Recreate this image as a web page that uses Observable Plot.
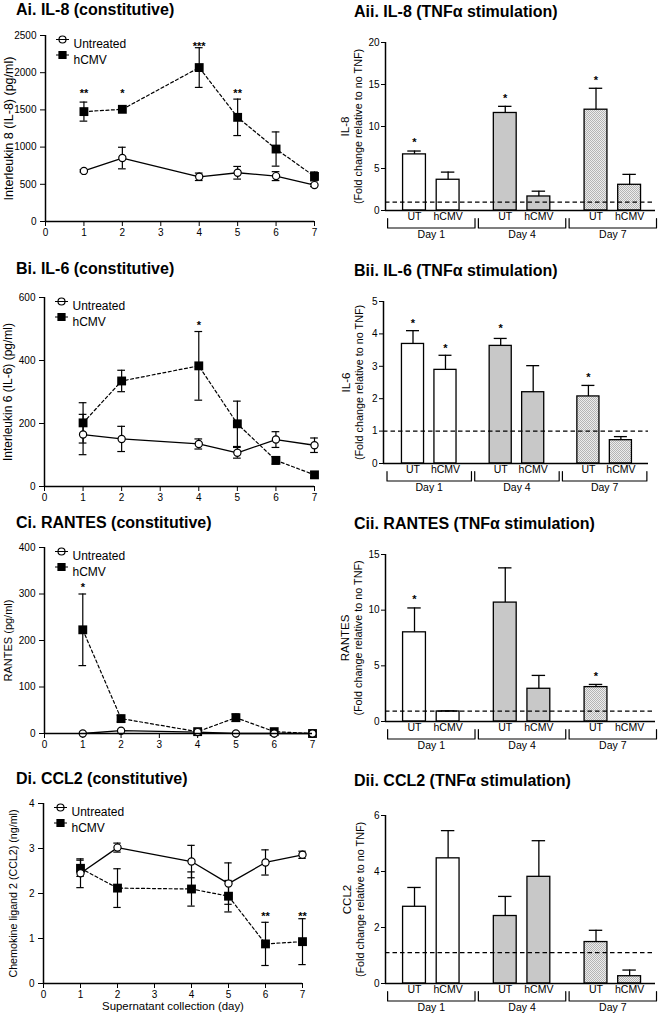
<!DOCTYPE html>
<html><head><meta charset="utf-8">
<script src="https://cdn.jsdelivr.net/npm/d3@7"></script>
<script src="https://cdn.jsdelivr.net/npm/@observablehq/plot@0.6"></script>
<style>
body{margin:0;background:#fff;}
#fig{position:relative;width:660px;height:1016px;overflow:hidden;font-family:'Liberation Sans',Arial,sans-serif;background:#fff;}
.panel{position:absolute;width:330px;height:254px;}
.title{position:absolute;font-weight:bold;font-size:16px;line-height:16px;white-space:nowrap;color:#000;font-family:'Liberation Sans',Arial,sans-serif;}
</style></head><body>
<svg width="0" height="0" style="position:absolute"><defs>
<pattern id="chk" width="2" height="2" patternUnits="userSpaceOnUse">
<rect width="2" height="2" fill="#ececec"/><rect width="1" height="1" fill="#b4b4b4"/><rect x="1" y="1" width="1" height="1" fill="#b4b4b4"/>
</pattern></defs></svg>
<div id="fig"></div>
<script>
// ---------------- DATA ----------------
const days = [1, 2, 4, 5, 6, 7];

// Ai IL-8 constitutive (pg/ml)
const il8Untreated    = [680, 853, 601, 655, 610, 489];
const il8UntreatedErr = [15, 145, 50, 85, 60, 20];
const il8HCMV         = [1477, 1508, 2069, 1400, 974, 606];
const il8HCMVErr      = [128, 20, 267, 245, 230, 60];
const il8StarDays   = [1, 2, 4, 5];
const il8StarLabels = ["**", "*", "***", "**"];
const il8StarLevels = [1760, 1760, 2390, 1760];

// Bi IL-6 constitutive (pg/ml)
const il6Untreated    = [165, 151, 135, 107, 149, 131];
const il6UntreatedErr = [64, 40, 16, 17, 25, 23];
const il6HCMV         = [202, 335, 383, 199, 83, 37];
const il6HCMVErr      = [64, 34, 109, 72, 12, 10];
const il6StarDays   = [4];
const il6StarLabels = ["*"];
const il6StarLevels = [520];

// Ci RANTES constitutive (pg/ml)
const rantesUntreated    = [0, 6, 3, 0, 0, 0];
const rantesUntreatedErr = [0, 0, 0, 0, 0, 0];
const rantesHCMV         = [223, 32, 4, 34, 4, 0];
const rantesHCMVErr      = [77, 7, 0, 8, 0, 0];
const rantesStarDays   = [1];
const rantesStarLabels = ["*"];
const rantesStarLevels = [320];

// Di CCL2 constitutive (ng/ml)
const ccl2Untreated    = [2.45, 3.02, 2.71, 2.22, 2.69, 2.86];
const ccl2UntreatedErr = [0.32, 0.10, 0.36, 0.46, 0.28, 0.08];
const ccl2HCMV         = [2.56, 2.12, 2.10, 1.94, 0.88, 0.93];
const ccl2HCMVErr      = [0.18, 0.43, 0.38, 0.35, 0.48, 0.51];
const ccl2StarDays   = [6, 7];
const ccl2StarLabels = ["**", "**"];
const ccl2StarLevels = [1.56, 1.56];

// TNFα stimulation bar charts (fold change), order: Day1 UT, Day1 hCMV, Day4 UT, Day4 hCMV, Day7 UT, Day7 hCMV
const groups = ["Day 1", "Day 4", "Day 7"];
const treatments = ["UT", "hCMV"];

const il8Fold      = [6.68, 3.66, 11.61, 1.67, 12.0, 3.06];
const il8FoldErr   = [0.40, 0.91, 0.79, 0.63, 2.55, 1.24];
const il8FoldStarBars   = [0, 2, 4];
const il8FoldStarLevels = [8.4, 13.7, 15.8];

const il6Fold      = [3.69, 2.89, 3.63, 2.20, 2.07, 0.72];
const il6FoldErr   = [0.41, 0.45, 0.23, 0.82, 0.34, 0.11];
const il6FoldStarBars   = [0, 1, 2, 4];
const il6FoldStarLevels = [4.42, 3.64, 4.25, 2.75];

const rantesFold    = [8.01, 0.90, 10.68, 2.94, 3.09, null];
const rantesFoldErr = [2.19, 0.05, 3.12, 1.20, 0.24, null];
const rantesFoldStarBars   = [0, 4];
const rantesFoldStarLevels = [11.2, 4.3];

const ccl2Fold    = [2.74, 4.47, 2.41, 3.81, 1.48, 0.26];
const ccl2FoldErr = [0.69, 0.99, 0.70, 1.29, 0.42, 0.22];
const ccl2FoldStarBars   = [];
const ccl2FoldStarLevels = [];

const refLevels = [1, 1, 0.93, 1.1]; // dashed "no TNF" reference line per panel
const foldLabel = "(Fold change relative to no TNF)";

// ---------------- LAYOUT ----------------
const W = 330, H = 254;
const fontFam = "'Liberation Sans', Arial, sans-serif";
const narrowFam = "'Liberation Sans Narrow', 'Arial Narrow', 'Liberation Sans', Arial, sans-serif";
const baseStyle = {fontFamily: fontFam, fontSize: "10px", color: "black", background: "transparent", overflow: "visible"};
const fig = document.getElementById("fig");

function place(node, left, top) {
  const d = document.createElement("div");
  d.className = "panel";
  d.style.left = left + "px"; d.style.top = top + "px";
  d.appendChild(node);
  fig.appendChild(d);
}
function title(text, left, top) {
  const d = document.createElement("div");
  d.className = "title";
  d.style.left = left + "px"; d.style.top = top + "px";
  d.textContent = text;
  fig.appendChild(d);
}
function margins(f, left, top) {
  return {width: W, height: H, marginLeft: f.x0 - left, marginRight: left + W - f.x1,
          marginTop: f.y0 - top, marginBottom: top + H - f.y1};
}

const legendCircle = {draw(ctx) { ctx.moveTo(-6.5, 0); ctx.lineTo(6.5, 0); ctx.moveTo(3.5, 0); ctx.arc(0, 0, 3.5, 0, 2 * Math.PI); }};
const legendSquare = {draw(ctx) { ctx.moveTo(-6.5, 0); ctx.lineTo(6.5, 0); ctx.rect(-3.5, -3.5, 7, 7); }};

function linePanel(p) {
  const left = 0, top = p.row * H, f = p.frame;
  const U = days.map((d, i) => ({day: d, v: p.u[i], e: p.ue[i]}));
  const C = days.map((d, i) => ({day: d, v: p.h[i], e: p.he[i]}));
  const errs = [...U, ...C].filter(d => d.e > 0);
  const stars = p.starDays.map((d, i) => ({day: d, y: p.starLevels[i], t: p.starLabels[i]}));
  const marks = [
    Plot.ruleX(errs, {x: "day", y1: d => d.v - d.e, y2: d => d.v + d.e, strokeWidth: 1.2}),
    Plot.ruleY(errs, {y: d => d.v + d.e, x1: d => d.day - 0.1, x2: d => d.day + 0.1, strokeWidth: 1.2}),
    Plot.ruleY(errs, {y: d => d.v - d.e, x1: d => d.day - 0.1, x2: d => d.day + 0.1, strokeWidth: 1.2}),
    Plot.line(C, {x: "day", y: "v", strokeWidth: 1.2, strokeDasharray: "3,2.5"}),
    Plot.line(U, {x: "day", y: "v", strokeWidth: 1.3}),
    Plot.dot(C, {x: "day", y: "v", symbol: "square", r: 5, fill: "black", stroke: "none"}),
    Plot.dot(U, {x: "day", y: "v", r: 3.6, fill: "white", stroke: "black", strokeWidth: 1.2}),
    Plot.ruleX([0], {strokeWidth: 1.5}),
    Plot.ruleY([0], {strokeWidth: 1.5}),
    Plot.text(stars, {x: "day", y: "y", text: "t", fontSize: 11, fontWeight: "bold", dy: 3}),
    Plot.dot(["Untreated"], {frameAnchor: "top-left", dx: 17, dy: 4, symbol: legendCircle, fill: "white", stroke: "black", strokeWidth: 1.2}),
    Plot.dot(["hCMV"], {frameAnchor: "top-left", dx: 17, dy: 19.5, symbol: legendSquare, fill: "black", stroke: "black", strokeWidth: 1.2}),
    Plot.text(["Untreated"], {frameAnchor: "top-left", dx: 28, dy: 4, text: d => d, textAnchor: "start", fontSize: 12}),
    Plot.text(["hCMV"], {frameAnchor: "top-left", dx: 28, dy: 19.5, text: d => d, textAnchor: "start", fontSize: 12}),
    Plot.text([p.ylabel], {frameAnchor: "left", rotate: -90, dx: p.labelDx, text: d => d, fontSize: p.labelSize, textAnchor: "middle", lineAnchor: "middle"})
  ];
  if (p.xlabel) marks.push(Plot.text([p.xlabel], {frameAnchor: "bottom", dy: 26, text: d => d, fontSize: 11.4}));
  const svg = Plot.plot({
    ...margins(f, left, top),
    style: baseStyle,
    x: {domain: [0, 7], ticks: [0, 1, 2, 3, 4, 5, 6, 7], tickSize: 5, tickPadding: 2, tickFormat: "d", label: null},
    y: {domain: [0, p.ymax], ticks: p.yticks, tickSize: 5, tickPadding: 4, tickFormat: "d", label: null},
    marks
  });
  place(svg, left, top);
  title(p.title, 16, p.titleTop);
}

function barPanel(p) {
  const left = W, top = p.row * H, f = p.frame;
  const k = p.ymax / (f.y1 - f.y0); // data units per pixel
  const slots = [];
  groups.forEach((g, gi) => treatments.forEach((t, ti) => {
    const i = gi * 2 + ti;
    slots.push({g: gi, t, pos: 1 + gi * 2.7 + ti, v: p.v[i], e: p.e[i]});
  }));
  const bars = slots.filter(d => d.v != null);
  const stars = p.starBars.map((b, i) => ({pos: slots[b].pos, y: p.starLevels[i]}));
  const brackets = [];
  groups.forEach((g, gi) => {
    const c = 1.5 + gi * 2.7;
    brackets.push({g: gi, x: c - 1.3, y: -8 * k}, {g: gi, x: c - 1.3, y: -17.5 * k},
                  {g: gi, x: c + 1.3, y: -17.5 * k}, {g: gi, x: c + 1.3, y: -8 * k});
  });
  const fills = ["white", "#c8c8c8", "url(#chk)"];
  const marks = [
    ...fills.map((fl, gi) => Plot.rectY(bars.filter(d => d.g === gi),
      {x1: d => d.pos - 0.34, x2: d => d.pos + 0.34, y: "v", fill: fl, stroke: "black", strokeWidth: 1.3})),
    Plot.ruleX(bars, {x: "pos", y1: "v", y2: d => d.v + d.e, strokeWidth: 1.3}),
    Plot.ruleY(bars, {y: d => d.v + d.e, x1: d => d.pos - 0.2, x2: d => d.pos + 0.2, strokeWidth: 1.3}),
    Plot.ruleY([p.ref], {strokeWidth: 1.2, strokeDasharray: "4.5,3"}),
    Plot.ruleX([p.xDomain[0]], {strokeWidth: 1.5}),
    Plot.ruleY([0], {strokeWidth: 1.5}),
    Plot.text(stars, {x: "pos", y: "y", text: () => "*", fontSize: 11, fontWeight: "bold", dy: 3}),
    Plot.text(slots, {x: "pos", frameAnchor: "bottom", dy: 9.5, text: "t", fontSize: 10.5}),
    Plot.line(brackets, {x: "x", y: "y", z: "g", strokeWidth: 1.2}),
    Plot.text(groups, {x: (d, i) => 1.5 + i * 2.7, frameAnchor: "bottom", dy: 27, text: d => d, fontSize: 10.5}),
    Plot.text([p.ylabel], {frameAnchor: "left", rotate: -90, dx: p.nameDx, text: d => d, fontSize: 11.5, textAnchor: "middle", lineAnchor: "middle"}),
    Plot.text([foldLabel], {frameAnchor: "left", rotate: -90, dx: p.nameDx + 13, text: d => d, fontSize: 10.8, fontFamily: narrowFam, textAnchor: "middle", lineAnchor: "middle"})
  ];
  const svg = Plot.plot({
    ...margins(f, left, top),
    style: baseStyle,
    x: {domain: p.xDomain, axis: null},
    y: {domain: [0, p.ymax], ticks: p.yticks, tickSize: 4, tickPadding: 2, tickFormat: "d", label: null},
    marks
  });
  place(svg, left, top);
  title(p.title, 354, p.titleTop);
}

linePanel({row: 0, title: "Ai. IL-8 (constitutive)", titleTop: 2, frame: {x0: 45, x1: 314, y0: 35, y1: 221},
  u: il8Untreated, ue: il8UntreatedErr, h: il8HCMV, he: il8HCMVErr,
  starDays: il8StarDays, starLabels: il8StarLabels, starLevels: il8StarLevels,
  ymax: 2500, yticks: [0, 500, 1000, 1500, 2000, 2500], ylabel: "Interleukin 8 (IL-8) (pg/ml)", labelDx: -37, labelSize: 12.5});
linePanel({row: 1, title: "Bi. IL-6 (constitutive)", titleTop: 261, frame: {x0: 44, x1: 314, y0: 297, y1: 486},
  u: il6Untreated, ue: il6UntreatedErr, h: il6HCMV, he: il6HCMVErr,
  starDays: il6StarDays, starLabels: il6StarLabels, starLevels: il6StarLevels,
  ymax: 600, yticks: [0, 200, 400, 600], ylabel: "Interleukin 6 (IL-6) (pg/ml)", labelDx: -36, labelSize: 12});
linePanel({row: 2, title: "Ci. RANTES (constitutive)", titleTop: 515, frame: {x0: 44, x1: 312, y0: 547, y1: 733},
  u: rantesUntreated, ue: rantesUntreatedErr, h: rantesHCMV, he: rantesHCMVErr,
  starDays: rantesStarDays, starLabels: rantesStarLabels, starLevels: rantesStarLevels,
  ymax: 400, yticks: [0, 100, 200, 300, 400], ylabel: "RANTES (pg/ml)", labelDx: -36.5, labelSize: 11});
linePanel({row: 3, title: "Di. CCL2 (constitutive)", titleTop: 771, frame: {x0: 43, x1: 302, y0: 803, y1: 983},
  u: ccl2Untreated, ue: ccl2UntreatedErr, h: ccl2HCMV, he: ccl2HCMVErr,
  starDays: ccl2StarDays, starLabels: ccl2StarLabels, starLevels: ccl2StarLevels,
  ymax: 4, yticks: [0, 1, 2, 3, 4], ylabel: "Chemokine ligand 2 (CCL2) (ng/ml)", labelDx: -30, labelSize: 10.7,
  xlabel: "Supernatant collection (day)"});

barPanel({row: 0, title: "Aii. IL-8 (TNFα stimulation)", titleTop: 4, frame: {x0: 385, x1: 655, y0: 42, y1: 210},
  xDomain: [0.137, 8.17], v: il8Fold, e: il8FoldErr, starBars: il8FoldStarBars, starLevels: il8FoldStarLevels,
  ref: refLevels[0], ymax: 20, yticks: [0, 5, 10, 15, 20], ylabel: "IL-8", nameDx: -40});
barPanel({row: 1, title: "Bii. IL-6 (TNFα stimulation)", titleTop: 263, frame: {x0: 383, x1: 648, y0: 301, y1: 463},
  xDomain: [0.092, 8.25], v: il6Fold, e: il6FoldErr, starBars: il6FoldStarBars, starLevels: il6FoldStarLevels,
  ref: refLevels[1], ymax: 5, yticks: [0, 1, 2, 3, 4, 5], ylabel: "IL-6", nameDx: -37});
barPanel({row: 2, title: "Cii. RANTES (TNFα stimulation)", titleTop: 516, frame: {x0: 385, x1: 655, y0: 554, y1: 721},
  xDomain: [0.137, 8.17], v: rantesFold, e: rantesFoldErr, starBars: rantesFoldStarBars, starLevels: rantesFoldStarLevels,
  ref: refLevels[2], ymax: 15, yticks: [0, 5, 10, 15], ylabel: "RANTES", nameDx: -40});
barPanel({row: 3, title: "Dii. CCL2 (TNFα stimulation)", titleTop: 773, frame: {x0: 385, x1: 655, y0: 815, y1: 983},
  xDomain: [0.137, 8.17], v: ccl2Fold, e: ccl2FoldErr, starBars: ccl2FoldStarBars, starLevels: ccl2FoldStarLevels,
  ref: refLevels[3], ymax: 6, yticks: [0, 2, 4, 6], ylabel: "CCL2", nameDx: -38});
</script>
</body></html>
